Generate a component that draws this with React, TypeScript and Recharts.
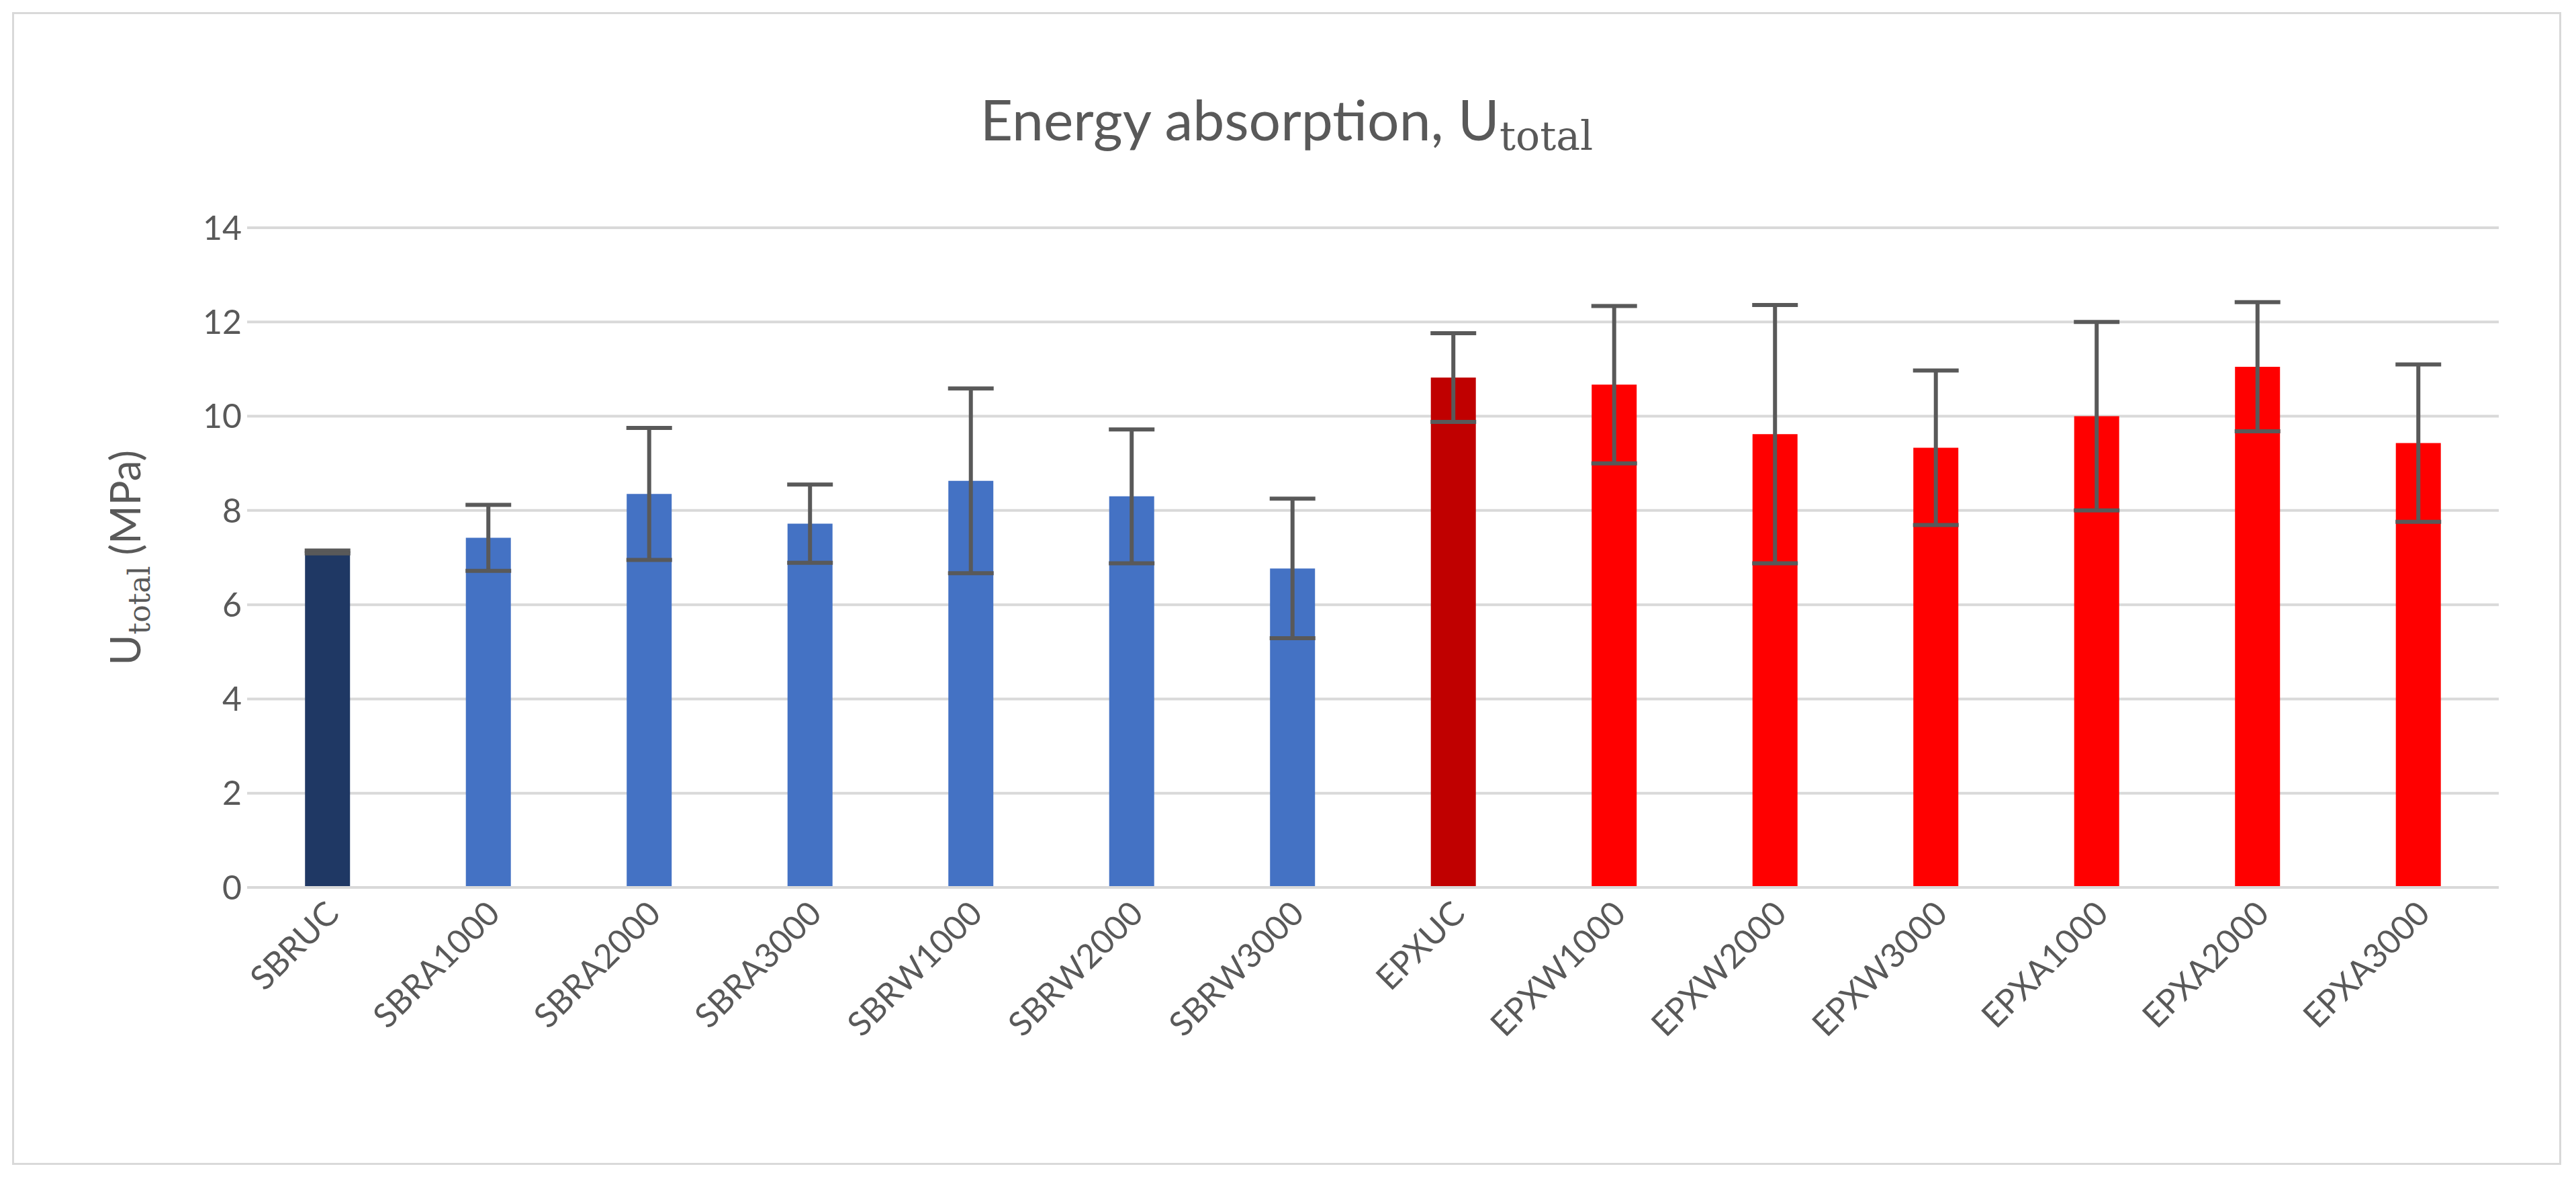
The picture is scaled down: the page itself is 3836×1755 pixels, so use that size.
import { Bar, BarChart, CartesianGrid, Cell, ErrorBar, Label, XAxis, YAxis } from "recharts";

const samples = [
  "SBRUC", "SBRA1000", "SBRA2000", "SBRA3000", "SBRW1000", "SBRW2000", "SBRW3000",
  "EPXUC", "EPXW1000", "EPXW2000", "EPXW3000", "EPXA1000", "EPXA2000", "EPXA3000",
];
const uTotal = [7.12, 7.42, 8.35, 7.72, 8.63, 8.3, 6.77, 10.82, 10.67, 9.62, 9.33, 10.0, 11.05, 9.43];
const uError = [0.03, 0.7, 1.4, 0.83, 1.96, 1.42, 1.48, 0.94, 1.67, 2.74, 1.64, 2.0, 1.37, 1.67];
const barColors = [
  "#1F3864", "#4472C4", "#4472C4", "#4472C4", "#4472C4", "#4472C4", "#4472C4",
  "#C00000", "#FF0000", "#FF0000", "#FF0000", "#FF0000", "#FF0000", "#FF0000",
];
const yTicks = [0, 2, 4, 6, 8, 10, 12, 14];

const data = samples.map((name, i) => ({ name, value: uTotal[i], err: uError[i] }));

const FONT = "Lato, 'Open Sans', sans-serif";
const MATH = "'DejaVu Serif', 'Liberation Serif', serif";

function RotatedTick({ x, y, payload }: any) {
  return (
    <text
      x={x + 20}
      y={y + 34}
      transform={`rotate(-45 ${x + 20} ${y + 34})`}
      textAnchor="end"
      fontSize={50}
      fill="#595959"
      fontFamily={FONT}
    >
      {payload.value}
    </text>
  );
}

function YLabel({ viewBox }: any) {
  const cx = 188;
  const cy = viewBox.y + viewBox.height / 2;
  return (
    <text
      x={cx}
      y={cy}
      transform={`rotate(-90 ${cx} ${cy})`}
      textAnchor="middle"
      fontSize={62}
      fill="#595959"
      fontFamily={FONT}
    >
      U
      <tspan fontFamily={MATH} fontSize={44} dy={14}>total</tspan>
      <tspan dy={-14}> (MPa)</tspan>
    </text>
  );
}

export default function App() {
  return (
    <div
      style={{
        position: "relative",
        width: 3790,
        height: 1710,
        border: "3px solid #D9D9D9",
        margin: "10px 0 0 10px",
        background: "#fff",
      }}
    >
      <div
        style={{
          position: "absolute",
          top: 105,
          left: 0,
          width: "100%",
          textAlign: "center",
          fontFamily: FONT,
          fontSize: 84,
          color: "#595959",
        }}
      >
        Energy absorption, U
        <span style={{ fontFamily: MATH, fontSize: 60, verticalAlign: -14 }}>total</span>
      </div>
      <BarChart
        width={3790}
        height={1710}
        data={data}
        margin={{ top: 318, right: 90, left: 227, bottom: 10 }}
        barCategoryGap="36%"
      >
        <CartesianGrid vertical={false} stroke="#D9D9D9" strokeWidth={4} />
        <XAxis
          dataKey="name"
          interval={0}
          tick={<RotatedTick />}
          tickLine={false}
          axisLine={{ stroke: "#D9D9D9", strokeWidth: 4 }}
          height={400}
        />
        <YAxis
          domain={[0, 14]}
          ticks={yTicks}
          tick={{ fontSize: 50, fill: "#595959", fontFamily: FONT }}
          tickLine={false}
          axisLine={false}
          width={120}
        >
          <Label content={<YLabel />} />
        </YAxis>
        <Bar dataKey="value" isAnimationActive={false}>
          {data.map((d, i) => (
            <Cell key={d.name} fill={barColors[i]} />
          ))}
          <ErrorBar dataKey="err" width={34} stroke="#595959" strokeWidth={6} />
        </Bar>
      </BarChart>
    </div>
  );
}
